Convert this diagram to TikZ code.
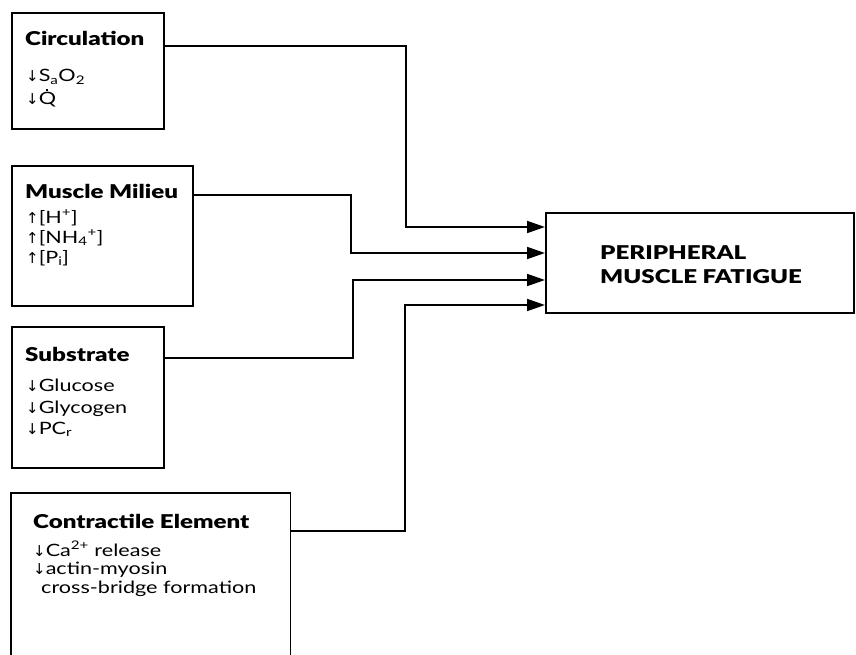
\documentclass[tikz,border=0pt]{standalone}
\usepackage{fontspec}
\setmainfont{Lato}[FakeStretch=1.27,BoldFont={Lato Black}]
\newfontfamily\arrowfont{DejaVu Sans}
\usetikzlibrary{arrows.meta}
\newcommand{\dn}{{\arrowfont\fontsize{15}{15}\selectfont↓}}
\newcommand{\up}{{\arrowfont\fontsize{15}{15}\selectfont↑}}
\newcommand{\qdot}{\setbox0\hbox{Q}\hbox to\wd0{\hss\smash{\raisebox{0.83em}{\rule{2pt}{2pt}}}\hss}\kern-\wd0\box0}
\begin{document}
\begin{tikzpicture}[x=1pt,y=-1pt,
  box/.style={draw,line width=1.8pt,inner sep=0pt,anchor=north west},
  ttl/.style={anchor=base west,inner sep=0pt,font=\fontsize{19}{19}\selectfont\bfseries},
  txt/.style={anchor=base west,inner sep=0pt,font=\fontsize{17}{17}\selectfont},
  conn/.style={line width=1.8pt,-{Triangle[length=18pt,width=12pt]}}]
\useasboundingbox (0,0) rectangle (856,655);
\node[box,minimum width=152pt,minimum height=116pt] (circ) at (11,12) {};
\node[box,minimum width=181pt,minimum height=140pt] (mil) at (11,165) {};
\node[box,minimum width=152pt,minimum height=141pt] (sub) at (11,326) {};
\node[inner sep=0pt,anchor=north west,minimum width=279pt,minimum height=175pt] (con) at (11,493) {};
\draw[line width=1.8pt] (con.south west) |- (con.north east) -- (con.south east);
\node[box,minimum width=308pt,minimum height=100pt] (peri) at (545,212) {};
% texts
\node[ttl] (t1) at (25,46) {Circulation};
\node[txt] (t1a) at (26,82) {\dn S\textsubscript{a}O\textsubscript{2}};
\node[txt] (t1b) at (26,105) {\dn\qdot};
\node[ttl] (t2) at (25,199) {Muscle Milieu};
\node[txt] (t2a) at (26,223) {\up[H\textsuperscript{+}]};
\node[txt] (t2b) at (26,243) {\up[NH\textsubscript{4}\textsuperscript{+}]};
\node[txt] (t2c) at (26,263) {\up[P\textsubscript{i}]};
\node[ttl] (t3) at (25,361) {Substrate};
\node[txt] (t3a) at (26,391) {\dn Glucose};
\node[txt] (t3b) at (26,413) {\dn Glycogen};
\node[txt] (t3c) at (26,434) {\dn PC\textsubscript{r}};
\node[ttl] (t4) at (33,528) {Contractile Element};
\node[txt] (t4a) at (33,556) {\dn Ca\textsuperscript{2+} release};
\node[txt] (t4b) at (33,574) {\dn actin-myosin};
\node[txt] (t4c) at (41,593) {cross-bridge formation};
\node[ttl] (p1) at (600,259) {PERIPHERAL};
\node[ttl] (p2) at (600,283) {MUSCLE FATIGUE};
% connectors
\draw[conn] ([yshift=-34pt]circ.north east) -| ([xshift=-139pt,yshift=-15pt]peri.north west) -- ([yshift=-15pt]peri.north west);
\draw[conn] ([yshift=-30pt]mil.north east) -| ([xshift=-194pt,yshift=-41pt]peri.north west) -- ([yshift=-41pt]peri.north west);
\draw[conn] ([yshift=-32pt]sub.north east) -| ([xshift=-192pt,yshift=-68pt]peri.north west) -- ([yshift=-68pt]peri.north west);
\draw[conn] ([yshift=-38pt]con.north east) -| ([xshift=-140pt,yshift=-93pt]peri.north west) -- ([yshift=-93pt]peri.north west);
\end{tikzpicture}
\end{document}
